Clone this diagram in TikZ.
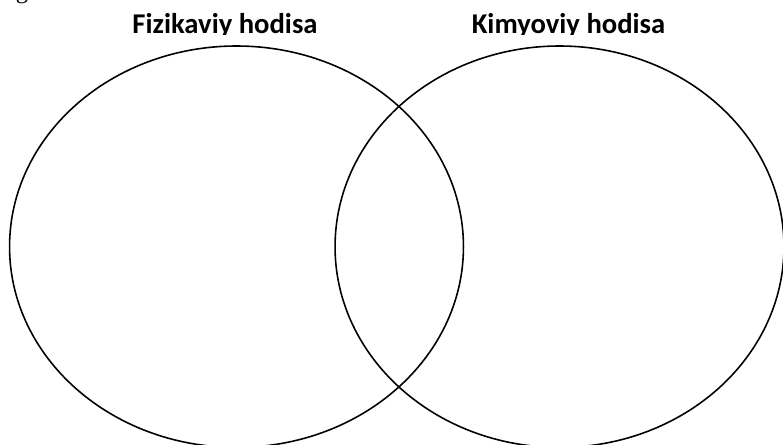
\documentclass[tikz,border=0pt]{standalone}
\usepackage{fontspec}
\setmainfont{Liberation Serif}
\newfontfamily\labelfont{Carlito}
\usetikzlibrary{positioning, shapes.geometric}
\tikzset{
	setnode/.style={
			ellipse,
			draw=black,
			line width=0.9pt,
			inner sep=0pt,
			minimum height=8.03cm
		},
	titlenode/.style={
			anchor=base,
			inner sep=0pt,
			font=\labelfont\bfseries\fontsize{16.3}{19}\selectfont
		}
}
\begin{document}
\begin{tikzpicture}[x=0.02cm, y=-0.02cm]
	\useasboundingbox (0,0) rectangle (783,444);
	\clip (0,0) rectangle (783,444);

	% leftover of the line above
	\node[anchor=base, inner sep=0pt, font=\fontsize{14}{16}\selectfont] (rest) at (22,-1.5) {g};

	\node[setnode, minimum width=9.08cm] (fiz) at (236.5,246.7) {};
	\node[setnode, minimum width=8.98cm] (kim) at (559.5,246.7) {};

	\begin{scope}
		\clip (0,0) rectangle (783,34.5);
		\node[titlenode] (fiztitle) at (225,33.3) {Fizikaviy hodisa};
		\node[titlenode] (kimtitle) at (568.5,33.3) {Kimyoviy hodisa};
	\end{scope}
\end{tikzpicture}
\end{document}
